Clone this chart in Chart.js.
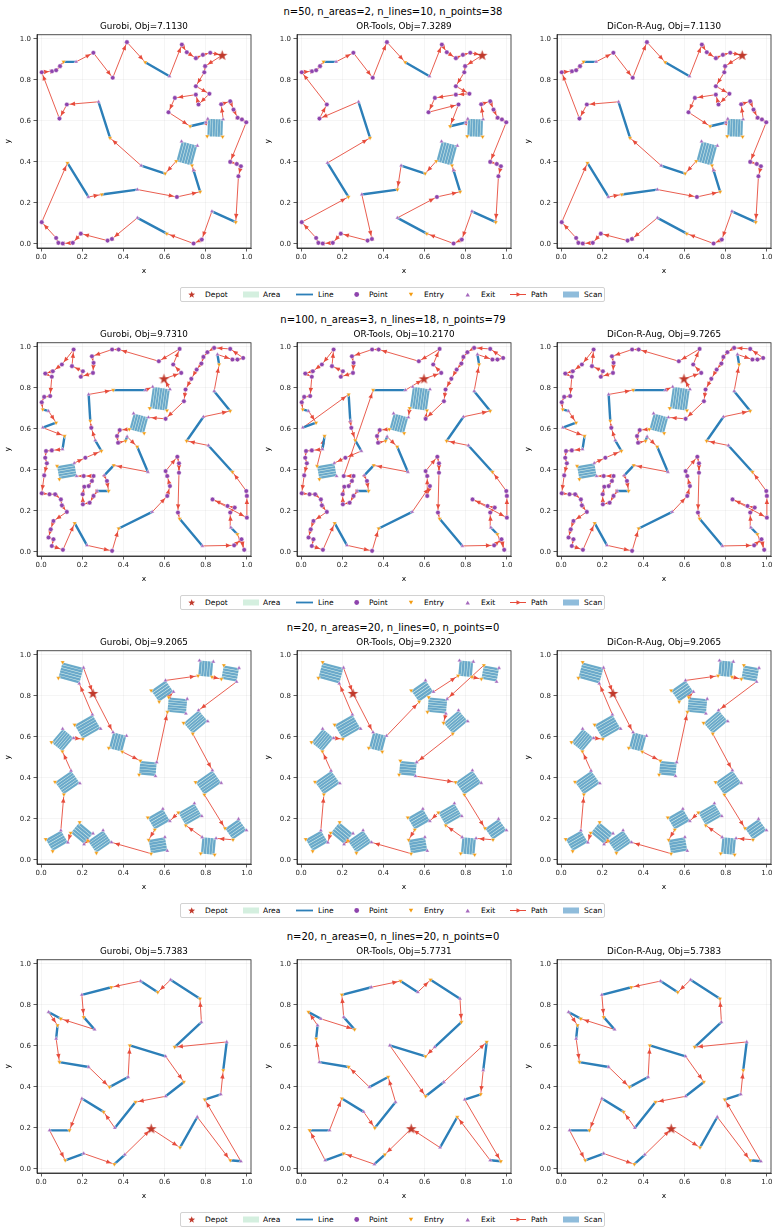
<!DOCTYPE html>
<html>
<head>
<meta charset="utf-8">
<script src="https://cdn.jsdelivr.net/npm/chart.js@4.4.1/dist/chart.umd.min.js"></script>
<style>
html,body{margin:0;padding:0;background:#fff;}
body{position:relative;width:781px;height:1232px;overflow:hidden;font-family:"DejaVu Sans",sans-serif;color:#000;}
.sup{position:absolute;left:0;width:786px;text-align:center;font-size:10px;line-height:12px;white-space:nowrap;}
.panel{position:absolute;}
.leg{position:absolute;left:180px;width:425px;height:15px;border:1px solid #d2d2d2;border-radius:2px;background:#fff;box-sizing:border-box;}
.leg svg{position:absolute;left:0;top:0;}
.leg span{position:absolute;top:0;line-height:13px;font-size:7.5px;white-space:nowrap;}
</style>
</head>
<body>
<script>
// ---------------- DATA ----------------
const TICKS = [0, 0.2, 0.4, 0.6, 0.8, 1.0];
const methods = ["Gurobi", "OR-Tools", "DiCon-R-Aug"];
const suptitles = [
  "n=50, n_areas=2, n_lines=10, n_points=38",
  "n=100, n_areas=3, n_lines=18, n_points=79",
  "n=20, n_areas=20, n_lines=0, n_points=0",
  "n=20, n_areas=0, n_lines=20, n_points=0"
];
const objs1 = ["7.1130", "7.3289", "7.1130"];
const objs2 = ["9.7310", "10.2170", "9.7265"];
const objs3 = ["9.2065", "9.2320", "9.2065"];
const objs4 = ["5.7383", "5.7731", "5.7383"];

// Row 1 instance
const depot1 = [0.88, 0.92];
const points1 = [
  [0.417,0.984],[0.684,0.972],[0.708,0.935],[0.752,0.906],[0.786,0.922],[0.822,0.932],[0.254,0.932],[0.348,0.810],[0.003,0.837],[0.053,0.842],
  [0.073,0.847],[0.092,0.867],[0.797,0.867],[0.793,0.837],[0.752,0.769],[0.818,0.732],[0.752,0.728],[0.765,0.680],[0.650,0.712],[0.619,0.642],
  [0.125,0.680],[0.089,0.611],[0.875,0.681],[0.919,0.696],[0.935,0.655],[0.955,0.615],[0.976,0.607],[0.997,0.593],[0.919,0.400],[0.951,0.390],
  [0.971,0.379],[0.959,0.330],[0.660,0.229],[0.003,0.106],[0.073,0.029],[0.084,0.005],[0.105,0.002],[0.154,0.005],[0.193,0.050],[0.323,0.016],
  [0.344,0.024],[0.741,0.002],[0.781,0.021]
];
const lines1 = [
  [0.506,0.886,0.624,0.818],[0.109,0.888,0.170,0.888],[0.335,0.517,0.279,0.693],[0.603,0.343,0.486,0.382],[0.773,0.254,0.741,0.359],
  [0.295,0.241,0.468,0.265],[0.128,0.395,0.230,0.229],[0.611,0.050,0.468,0.127],[0.946,0.106,0.830,0.159],[0.724,0.574,0.801,0.592]
];
const areas1 = [[0.708,0.441,0.100,0.080,75],[0.846,0.566,0.085,0.075,88]];
const routeGurobi1 = "D p12 p13 p14 p15 p17 p16 p18 p19 l9 a1 p22 p23 p24 p25 p26 p27 p28 p29 p30 p31 l8 p42 p41 l7 p40 p39 p38 p37 p36 p35 p34 p33 l6 l5 p32 l4 a0 l3 l2 p20 p21 p8 p9 p10 p11 l1 p6 p7 p0 l0 p1 p2 p3 p4 p5 D".split(" ");
const routeORTools1 = "D p12 p13 p14 p15 p16 p18 p19 p17 l9 a1 p22 p23 p24 p25 p26 p27 p28 p29 p30 p31 l8 p42 p41 l7 p32 l4 a0 l3 r5 p40 p39 p38 p37 p36 p35 p34 p33 r6 l2 p21 p20 p8 p9 p10 p11 l1 p6 p7 p0 l0 p1 p2 p3 p4 p5 D".split(" ");
const routeDiCon1 = "D p12 p13 p14 p15 p17 p16 p18 p19 l9 a1 p22 p23 p24 p25 p26 p27 p28 p29 p30 p31 l8 p42 p41 l7 p40 p39 p38 p37 p36 p35 p34 p33 l6 l5 p32 l4 a0 l3 l2 p20 p21 p8 p9 p10 p11 l1 p6 p7 p0 l0 p1 p2 p3 p4 p5 D".split(" ");

// Row 2 instance
const depot2 = [0.597, 0.844];
const points2 = [
  [0.681,0.873],[0.642,0.914],[0.673,0.990],[0.572,0.930],[0.377,0.987],[0.345,0.987],[0.247,0.954],[0.255,0.922],[0.252,0.873],[0.193,0.854],
  [0.203,0.881],[0.150,0.906],[0.158,0.987],[0.101,0.914],[0.057,0.881],[0.020,0.870],[0.052,0.854],[0.044,0.760],[0.015,0.756],[0.003,0.730],
  [0.052,0.495],[0.024,0.492],[0.020,0.459],[0.028,0.432],[0.015,0.373],[0.003,0.286],[0.041,0.281],[0.068,0.281],[0.096,0.256],[0.101,0.227],
  [0.125,0.195],[0.060,0.151],[0.047,0.110],[0.036,0.070],[0.060,0.062],[0.052,0.029],[0.106,0.010],[0.345,0.005],[0.613,0.273],[0.626,0.321],
  [0.613,0.370],[0.605,0.394],[0.662,0.464],[0.670,0.432],[0.670,0.386],[0.665,0.192],[0.938,0.032],[0.974,0.062],[0.987,0.010],[0.919,0.192],
  [0.941,0.216],[0.906,0.224],[0.833,0.256],[1.000,0.167],[1.000,0.273],[0.997,0.297],[0.919,0.990],[0.930,0.938],[0.954,0.938],[0.982,0.946],
  [0.841,0.995],[0.808,0.974],[0.789,0.951],[0.779,0.919],[0.756,0.889],[0.730,0.844],[0.702,0.792],[0.694,0.735],[0.605,0.649],[0.382,0.594],
  [0.369,0.565],[0.374,0.532],[0.320,0.346],[0.255,0.273],[0.236,0.240],[0.203,0.232],[0.202,0.281],[0.210,0.318],[0.231,0.321],[0.247,0.346],
  [0.255,0.370],[0.207,0.370],[0.215,0.459],[0.244,0.605]
];
const lines2 = [
  [0.350,0.789,0.507,0.789],[0.239,0.638,0.231,0.768],[0.865,0.914,0.857,0.963],[0.919,0.687,0.841,0.784],[0.707,0.541,0.789,0.659],
  [0.930,0.390,0.813,0.519],[0.673,0.162,0.784,0.029],[0.377,0.114,0.540,0.195],[0.163,0.140,0.223,0.032],[0.467,0.513,0.519,0.390],
  [0.293,0.492,0.263,0.544],[0.353,0.422,0.307,0.373],[0.328,0.297,0.272,0.297],[0.008,0.695,0.036,0.687],[0.073,0.630,0.008,0.606],
  [0.114,0.565,0.104,0.500],[0.954,0.086,0.922,0.119],[0.410,0.541,0.418,0.562]
];
const areas2 = [[0.577,0.747,0.105,0.085,82],[0.475,0.627,0.080,0.075,75],[0.125,0.394,0.085,0.065,10]];
const routeGurobi2 = "D p0 p1 p2 p3 p4 p5 p6 p7 p8 p9 p10 p11 p12 p13 p14 p15 p16 p17 p18 p19 l13 l14 l15 p20 p21 p22 p23 p24 p25 p26 p27 p28 p29 p30 p31 p32 p33 p34 p35 p36 l8 p37 l7 p38 p39 p40 p41 p42 p43 p44 p45 l6 p46 p47 p48 l16 p49 p50 p51 p52 p53 p54 p55 l5 l4 l3 l2 p57 p58 p59 p56 p60 p61 p62 p63 p64 p65 p66 p67 p68 a1 p69 p70 p71 l17 l9 l11 p72 l12 p73 p74 p75 p76 p77 p78 p79 p80 p81 a2 p82 l10 p83 l1 l0 a0 D".split(" ");
const routeORTools2 = "D p0 p1 p2 p3 p4 p5 p6 p7 p8 p9 p10 p11 p12 p13 p14 p15 p16 p17 p18 p19 l13 l14 r1 p83 r10 p82 a2 l15 p20 p21 p22 p23 p24 p25 p26 p27 p28 p29 p30 p31 p32 p33 p34 p35 p36 l8 p37 l7 p39 p38 p40 p41 p42 p43 p44 p45 l6 p46 p47 p48 l16 p49 p50 p51 p52 p53 p54 p55 l5 l4 l3 l2 p57 p58 p59 p56 p60 p61 p62 p63 p64 p65 p66 p67 p68 a0 a1 p69 p70 p71 l17 l9 l11 p72 l12 p73 p74 p75 p76 p77 p78 p79 p80 p81 l0 D".split(" ");
const routeDiCon2 = "D p0 p1 p2 p3 p4 p5 p6 p7 p8 p9 p10 p11 p12 p13 p14 p15 p16 p17 p18 p19 l13 l14 l15 p20 p21 p22 p23 p24 p25 p26 p27 p28 p29 p30 p31 p32 p33 p34 p35 p36 l8 p37 l7 p38 p39 p40 p41 p42 p43 p44 p45 l6 p46 p47 p48 l16 p49 p50 p51 p52 p53 p54 p55 l5 l4 l3 l2 p57 p58 p59 p56 p60 p61 p62 p63 p64 p65 p66 p67 p68 a1 p69 p70 p71 l17 l9 l11 p72 l12 p73 p74 p75 p76 p77 p78 p79 p80 p81 a2 p82 l10 p83 l1 l0 a0 D".split(" ");

// Row 3 instance
const depot3 = [0.252, 0.812];
const points3 = [];
const lines3 = [];
const areas3 = [
  [0.145,0.912,0.105,0.080,-15],[0.226,0.649,0.100,0.080,30],[0.104,0.584,0.085,0.070,50],[0.372,0.575,0.080,0.068,75],[0.519,0.446,0.080,0.068,-5],
  [0.128,0.377,0.095,0.075,35],[0.589,0.823,0.085,0.068,35],[0.662,0.753,0.090,0.072,-5],[0.751,0.672,0.095,0.070,40],[0.800,0.932,0.075,0.068,85],
  [0.919,0.909,0.075,0.068,-10],[0.813,0.377,0.100,0.075,35],[0.724,0.222,0.090,0.072,30],[0.572,0.198,0.085,0.068,30],[0.946,0.149,0.080,0.068,35],
  [0.813,0.068,0.080,0.068,85],[0.568,0.071,0.080,0.068,10],[0.285,0.089,0.090,0.072,35],[0.198,0.130,0.085,0.068,-40],[0.076,0.093,0.085,0.068,30]
];
const routeGurobi3 = "D a3 a4 a7 a6 a9 a10 a8 a11 a14 a15 a12 a13 a16 a17 a18 a19 a5 a2 a1 a0 D".split(" ");
const routeORTools3 = "D a3 a6 a9 a10 a7 a8 a4 a11 a14 a15 a12 a13 a16 a17 a18 a19 a5 a2 a1 a0 D".split(" ");
const routeDiCon3 = "D a3 a4 a7 a6 a9 a10 a8 a11 a14 a15 a12 a13 a16 a17 a18 a19 a5 a2 a1 a0 D".split(" ");

// Row 4 instance
const depot4 = [0.535, 0.196];
const points4 = [];
const areas4 = [];
const lines4 = [
  [0.675,0.104,0.759,0.253],[0.919,0.042,0.971,0.037],[0.795,0.338,0.873,0.364],[0.885,0.481,0.902,0.619],[0.649,0.594,0.779,0.716],
  [0.772,0.830,0.629,0.922],[0.567,0.862,0.483,0.916],[0.341,0.886,0.198,0.849],[0.207,0.740,0.260,0.680],[0.096,0.732,0.036,0.765],
  [0.080,0.700,0.073,0.635],[0.089,0.521,0.231,0.497],[0.332,0.399,0.423,0.448],[0.431,0.602,0.605,0.549],[0.694,0.424,0.605,0.354],
  [0.459,0.326,0.358,0.200],[0.304,0.278,0.198,0.343],[0.138,0.188,0.041,0.188],[0.117,0.042,0.207,0.075],[0.356,0.023,0.407,0.070]
];
const routeGurobi4 = "D l0 l1 l2 l3 l4 l5 l6 l7 l8 l9 l10 l11 l12 l13 l14 l15 l16 l17 l18 l19 D".split(" ");
const routeORTools4 = "D r19 r18 r17 r16 r15 r12 r11 r10 r9 r8 r7 r6 r5 r4 r13 r14 r3 r2 r1 r0 D".split(" ");
const routeDiCon4 = "D l0 l1 l2 l3 l4 l5 l6 l7 l8 l9 l10 l11 l12 l13 l14 l15 l16 l17 l18 l19 D".split(" ");

// ---------------- STYLE ----------------
const FONT = "'DejaVu Sans', sans-serif";
const COL = {
  path: '#e74c3c', line: '#2c7fb8', point: '#8e44ad', entry: '#f39c12', exit: '#a569bd',
  depot: '#c0392b', area: 'rgba(171,235,198,0.3)', scan: 'rgba(31,119,180,0.62)'
};

const starImg = (() => {
  const c = document.createElement('canvas'); c.width = 13; c.height = 13;
  const g = c.getContext('2d'); g.fillStyle = COL.depot; g.beginPath();
  for (let k = 0; k < 10; k++) {
    const rad = k % 2 ? 2.2 : 5.6, a = -Math.PI / 2 + k * Math.PI / 5;
    const x = 6.5 + rad * Math.cos(a), y = 6.8 + rad * Math.sin(a);
    k ? g.lineTo(x, y) : g.moveTo(x, y);
  }
  g.closePath(); g.fill(); return c;
})();

function cornersOf(a) {
  const [cx, cy, len, wid, ang] = a; const t = ang * Math.PI / 180;
  const ux = Math.cos(t), uy = Math.sin(t), vx = -uy, vy = ux, hl = len / 2, hw = wid / 2;
  return [[cx - ux*hl - vx*hw, cy - uy*hl - vy*hw], [cx + ux*hl - vx*hw, cy + uy*hl - vy*hw],
          [cx + ux*hl + vx*hw, cy + uy*hl + vy*hw], [cx - ux*hl + vx*hw, cy - uy*hl + vy*hw]];
}

function resolveRoute(inst, route) {
  const nodes = route.map(tok => {
    if (tok === 'D') return { t: 'D', entry: inst.depot, exit: inst.depot };
    const k = tok[0], i = parseInt(tok.slice(1), 10);
    if (k === 'p') return { t: 'p', entry: inst.points[i], exit: inst.points[i] };
    if (k === 'l' || k === 'r') {
      const L = inst.lines[i], a = [L[0], L[1]], b = [L[2], L[3]];
      return k === 'l' ? { t: 'l', entry: a, exit: b } : { t: 'l', entry: b, exit: a };
    }
    const A = inst.areas[i];
    return { t: 'a', area: A, corners: cornersOf(A), entry: null, exit: null };
  });
  const d2 = (p, q) => (p[0]-q[0])**2 + (p[1]-q[1])**2;
  for (let k = 0; k < nodes.length; k++) {
    const n = nodes[k]; if (n.t !== 'a') continue;
    const prev = nodes[k-1].exit;
    let ei = 0; n.corners.forEach((c, j) => { if (d2(c, prev) < d2(n.corners[ei], prev)) ei = j; });
    const nx = nodes[k+1]; const ref = nx.t === 'a' ? [nx.area[0], nx.area[1]] : nx.entry;
    let xi = -1; n.corners.forEach((c, j) => { if (j === ei) return; if (xi < 0 || d2(c, ref) < d2(n.corners[xi], ref)) xi = j; });
    n.entry = n.corners[ei]; n.exit = n.corners[xi];
  }
  return nodes;
}

const P = p => ({ x: p[0], y: p[1] });
const GAP = { x: null, y: null };

function axisCfg(letter) {
  const horiz = letter === 'x';
  return {
    type: 'linear', min: -0.02, max: 1.02,
    afterBuildTicks: ax => { ax.ticks = TICKS.map(v => ({ value: v })); },
    afterFit: ax => { if (horiz) ax.height = 30; else ax.width = 36; },
    ticks: { callback: v => Number(v).toFixed(1), font: { family: FONT, size: 7 }, color: '#222',
             padding: horiz ? 1.5 : 2.5, maxRotation: 0, autoSkip: false },
    grid: { color: 'rgba(0,0,0,0.07)', lineWidth: 0.6, tickColor: '#333', tickLength: 3.5, tickWidth: 0.8 },
    border: { display: true, color: '#222', width: 0.8 },
    title: { display: true, text: letter, color: '#000', font: { family: FONT, size: 7.5 },
             padding: horiz ? { top: 0, bottom: 2.5 } : { top: 2.5, bottom: 0 } }
  };
}

function drawArrow(ctx, x1, y1, x2, y2) {
  const dx = x2 - x1, dy = y2 - y1, L = Math.hypot(dx, dy); if (L < 2) return;
  const ux = dx / L, uy = dy / L, sh = Math.min(3.2, L * 0.3);
  const tx = x2 - ux * sh, ty = y2 - uy * sh, hl = 5, hw = 2.2;
  const bx = tx - ux * hl, by = ty - uy * hl;
  ctx.beginPath(); ctx.moveTo(tx, ty);
  ctx.lineTo(bx - uy * hw, by + ux * hw); ctx.lineTo(bx + uy * hw, by - ux * hw);
  ctx.closePath(); ctx.fill();
}

function makePanel(left, top, title, inst, route) {
  const nodes = resolveRoute(inst, route);
  const path = [], arrows = [], lineData = [], entries = [], exits = [];
  for (let k = 0; k < nodes.length - 1; k++) {
    const a = nodes[k].exit, b = nodes[k+1].entry;
    path.push(P(a), P(b), GAP); arrows.push([a, b]);
  }
  nodes.forEach(n => {
    if (n.t === 'l') { lineData.push(P(n.entry), P(n.exit), GAP); entries.push(P(n.entry)); exits.push(P(n.exit)); }
  });
  inst.areas.forEach(A => { const c = cornersOf(A); entries.push(P(c[0]), P(c[3])); exits.push(P(c[1]), P(c[2])); });

  const cv = document.createElement('canvas');
  cv.className = 'panel'; cv.width = 258; cv.height = 259;
  cv.style.left = left + 'px'; cv.style.top = top + 'px'; cv.style.width = '258px'; cv.style.height = '259px';
  document.body.appendChild(cv);

  const areaPlugin = {
    id: 'areas',
    beforeDatasetsDraw(chart) {
      const ctx = chart.ctx, xs = chart.scales.x, ys = chart.scales.y;
      const px = (x, y) => [xs.getPixelForValue(x), ys.getPixelForValue(y)];
      ctx.save();
      inst.areas.forEach(A => {
        const cs = cornersOf(A).map(c => px(c[0], c[1]));
        ctx.fillStyle = COL.area; ctx.beginPath();
        cs.forEach((c, j) => j ? ctx.lineTo(c[0], c[1]) : ctx.moveTo(c[0], c[1]));
        ctx.closePath(); ctx.fill();
        const [cx, cy, len, wid, ang] = A, t = ang * Math.PI / 180;
        const ux = Math.cos(t), uy = Math.sin(t), vx = -uy, vy = ux;
        const n = Math.max(3, Math.round(wid / 0.0125));
        const spacingPx = (wid / n) * (xs.width / 1.04);
        ctx.strokeStyle = COL.scan; ctx.lineWidth = Math.max(1.2, spacingPx - 0.45); ctx.lineCap = 'butt';
        for (let k = 0; k < n; k++) {
          const off = -wid / 2 + wid * (k + 0.5) / n;
          const p1 = px(cx + vx*off - ux*len/2, cy + vy*off - uy*len/2);
          const p2 = px(cx + vx*off + ux*len/2, cy + vy*off + uy*len/2);
          ctx.beginPath(); ctx.moveTo(p1[0], p1[1]); ctx.lineTo(p2[0], p2[1]); ctx.stroke();
        }
      });
      ctx.restore();
    }
  };
  const arrowPlugin = {
    id: 'arrows',
    afterDatasetDraw(chart, args) {
      if (chart.data.datasets[args.index].label !== 'Path') return;
      const ctx = chart.ctx, xs = chart.scales.x, ys = chart.scales.y;
      ctx.save(); ctx.fillStyle = COL.path;
      arrows.forEach(([a, b]) => drawArrow(ctx, xs.getPixelForValue(a[0]), ys.getPixelForValue(a[1]),
                                                 xs.getPixelForValue(b[0]), ys.getPixelForValue(b[1])));
      ctx.restore();
    }
  };
  const framePlugin = {
    id: 'frame',
    afterDraw(chart) {
      const { left, top, right, bottom } = chart.chartArea, ctx = chart.ctx;
      ctx.save(); ctx.strokeStyle = '#222'; ctx.lineWidth = 0.8;
      ctx.strokeRect(left, top, right - left, bottom - top); ctx.restore();
    }
  };

  new Chart(cv, {
    type: 'scatter',
    data: {
      datasets: [
        { label: 'Depot', data: [P(inst.depot)], pointStyle: starImg, pointRadius: 6, order: 0 },
        { label: 'Entry', data: entries, pointStyle: 'triangle', rotation: 180, pointRadius: 2.5,
          backgroundColor: COL.entry, borderColor: '#fff', borderWidth: 0.4, order: 1 },
        { label: 'Exit', data: exits, pointStyle: 'triangle', pointRadius: 2.4,
          backgroundColor: COL.exit, borderColor: '#fff', borderWidth: 0.4, order: 2 },
        { label: 'Point', data: inst.points.map(P), pointStyle: 'circle', pointRadius: 2.3,
          backgroundColor: COL.point, borderColor: '#fff', borderWidth: 0.5, order: 3 },
        { label: 'Line', data: lineData, showLine: true, spanGaps: false, borderColor: COL.line,
          borderWidth: 2.4, pointRadius: 0, order: 4 },
        { label: 'Path', data: path, showLine: true, spanGaps: false, borderColor: COL.path,
          borderWidth: 0.9, pointRadius: 0, order: 5 }
      ]
    },
    options: {
      responsive: false, animation: false, devicePixelRatio: 1,
      layout: { padding: { left: 0, right: 8, top: 0, bottom: 0 } },
      events: [],
      plugins: {
        legend: { display: false }, tooltip: { enabled: false },
        title: { display: true, text: title, fullSize: false, color: '#000',
                 font: { family: FONT, size: 8.8, weight: 'normal' }, padding: { top: 2, bottom: 3.2 } }
      },
      scales: { x: axisCfg('x'), y: axisCfg('y') }
    },
    plugins: [areaPlugin, arrowPlugin, framePlugin]
  });
}

function makeLegend(top) {
  const d = document.createElement('div'); d.className = 'leg'; d.style.top = top + 'px';
  const starPts = []; for (let k = 0; k < 10; k++) { const r = k % 2 ? 1.5 : 3.6, a = -Math.PI/2 + k*Math.PI/5; starPts.push((10.7 + r*Math.cos(a)).toFixed(2) + ',' + (6.8 + r*Math.sin(a)).toFixed(2)); }
  d.innerHTML =
    '<svg width="425" height="14" xmlns="http://www.w3.org/2000/svg">' +
    '<polygon points="' + starPts.join(' ') + '" fill="' + COL.depot + '"/>' +
    '<rect x="62" y="3.5" width="16" height="6" fill="#d4efdf"/>' +
    '<line x1="115" y1="6.5" x2="132" y2="6.5" stroke="' + COL.line + '" stroke-width="1.8"/>' +
    '<circle cx="175.7" cy="6.5" r="2.4" fill="' + COL.point + '"/>' +
    '<polygon points="227.8,4.8 232.2,4.8 230,8.4" fill="' + COL.entry + '"/>' +
    '<polygon points="284.5,8.4 288.9,8.4 286.7,4.8" fill="' + COL.exit + '"/>' +
    '<line x1="329" y1="6.5" x2="345" y2="6.5" stroke="' + COL.path + '" stroke-width="1"/>' +
    '<polygon points="340,6.5 335.5,4.3 335.5,8.7" fill="' + COL.path + '"/>' +
    '<rect x="382" y="3.5" width="16" height="6" fill="#8fbcdb"/>' +
    '</svg>' +
    '<span style="left:24px">Depot</span><span style="left:82px">Area</span><span style="left:137px">Line</span>' +
    '<span style="left:188px">Point</span><span style="left:243px">Entry</span><span style="left:300px">Exit</span>' +
    '<span style="left:350px">Path</span><span style="left:403px">Scan</span>';
  document.body.appendChild(d);
}

// ---------------- BUILD ----------------
const rows = [
  { inst: { depot: depot1, points: points1, lines: lines1, areas: areas1 }, routes: [routeGurobi1, routeORTools1, routeDiCon1], objs: objs1 },
  { inst: { depot: depot2, points: points2, lines: lines2, areas: areas2 }, routes: [routeGurobi2, routeORTools2, routeDiCon2], objs: objs2 },
  { inst: { depot: depot3, points: points3, lines: lines3, areas: areas3 }, routes: [routeGurobi3, routeORTools3, routeDiCon3], objs: objs3 },
  { inst: { depot: depot4, points: points4, lines: lines4, areas: areas4 }, routes: [routeGurobi4, routeORTools4, routeDiCon4], objs: objs4 }
];
const frameTops = [35, 343, 651, 960];
const frameLefts = [37, 297, 557];

rows.forEach((row, r) => {
  const ft = frameTops[r];
  const s = document.createElement('div'); s.className = 'sup'; s.style.top = (ft - 29) + 'px';
  s.textContent = suptitles[r]; document.body.appendChild(s);
  for (let c = 0; c < 3; c++) {
    makePanel(frameLefts[c] - 36, ft - 16, methods[c] + ', Obj=' + row.objs[c], row.inst, row.routes[c]);
  }
  makeLegend(ft + 252);
});
</script>
</body>
</html>
